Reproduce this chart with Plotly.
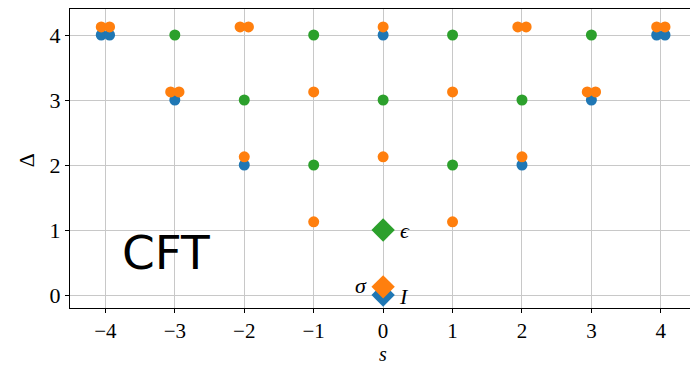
import plotly.graph_objects as go

# Ising CFT torus spectrum: (spin s, scaling dimension Delta, multiplicity)
# Primaries
prim_labels = ["I", "σ", "ϵ"]
prim_s = [0, 0, 0]
prim_delta = [0.0, 0.125, 1.0]

# Descendants, identity tower
I_s = [-2, 2, -3, 3, -4, 0, 4]
I_delta = [2, 2, 3, 3, 4, 4, 4]
I_mult = [1, 1, 1, 1, 2, 1, 2]

# Descendants, sigma tower
sig_s = [-1, 1, -2, 0, 2, -3, -1, 1, 3, -4, -2, 0, 2, 4]
sig_delta = [1.125, 1.125, 2.125, 2.125, 2.125, 3.125, 3.125, 3.125, 3.125,
             4.125, 4.125, 4.125, 4.125, 4.125]
sig_mult = [1, 1, 1, 1, 1, 2, 1, 1, 2, 2, 2, 1, 2, 2]

# Descendants, epsilon tower
eps_s = [-1, 1, -2, 0, 2, -3, -1, 1, 3]
eps_delta = [2, 2, 3, 3, 3, 4, 4, 4, 4]
eps_mult = [1, 1, 1, 1, 1, 1, 1, 1, 1]

x_ticks = [-4, -3, -2, -1, 0, 1, 2, 3, 4]
y_ticks = [0, 1, 2, 3, 4]

colors = ["#1f77b4", "#ff7f0e", "#2ca02c"]
SPLIT = 0.06


def expand(s_list, d_list, m_list):
    xs, ys = [], []
    for s, d, m in zip(s_list, d_list, m_list):
        if m == 1:
            xs.append(s); ys.append(d)
        else:
            xs += [s - SPLIT, s + SPLIT]; ys += [d, d]
    return xs, ys


fig = go.Figure()
for (sl, dl, ml), c in zip([(I_s, I_delta, I_mult), (sig_s, sig_delta, sig_mult),
                            (eps_s, eps_delta, eps_mult)], colors):
    xs, ys = expand(sl, dl, ml)
    fig.add_trace(go.Scatter(x=xs, y=ys, mode="markers",
                             marker=dict(color=c, size=11, symbol="circle"),
                             showlegend=False, hoverinfo="skip"))

for i, c in enumerate(colors):
    fig.add_trace(go.Scatter(x=[prim_s[i]], y=[prim_delta[i]], mode="markers",
                             marker=dict(color=c, size=18, symbol="diamond"),
                             showlegend=False, hoverinfo="skip"))

serif = "Liberation Serif"
ann = []
ann.append(dict(x=0.2, y=-0.02, xref="x", yref="y", text="<i>I</i>", showarrow=False,
                xanchor="left", yanchor="middle", font=dict(family=serif, size=22, color="black")))
ann.append(dict(x=-0.2, y=0.14, xref="x", yref="y", text="<i>σ</i>", showarrow=False,
                xanchor="right", yanchor="middle", font=dict(family=serif, size=22, color="black")))
ann.append(dict(x=0.22, y=1.0, xref="x", yref="y", text="<i>ϵ</i>", showarrow=False,
                xanchor="left", yanchor="middle", font=dict(family=serif, size=22, color="black")))
ann.append(dict(x=-3.13, y=0.66, xref="x", yref="y", text="CFT", showarrow=False,
                xanchor="center", yanchor="middle",
                font=dict(family="DejaVu Sans", size=47, color="black")))
ann.append(dict(x=-0.069, y=0.495, xref="paper", yref="paper", text="Δ", showarrow=False,
                textangle=-90, xanchor="center", yanchor="middle",
                font=dict(family=serif, size=22, color="black")))
ann.append(dict(x=0.505, y=-0.154, xref="paper", yref="paper", text="<i>s</i>", showarrow=False,
                xanchor="center", yanchor="middle",
                font=dict(family=serif, size=20, color="black")))

fig.update_layout(
    width=690, height=365,
    margin=dict(l=70, r=0, t=9, b=57),
    plot_bgcolor="white", paper_bgcolor="white",
    annotations=ann,
    xaxis=dict(range=[-4.51, 4.42], tickvals=x_ticks, showgrid=True, gridcolor="#c8c8c8",
               gridwidth=1, zeroline=False, showline=True, linecolor="black", linewidth=1.2,
               mirror=True, ticks="outside", ticklen=4, tickcolor="black",
               tickfont=dict(family=serif, size=21, color="black")),
    yaxis=dict(range=[-0.2, 4.4], tickvals=y_ticks, showgrid=True, gridcolor="#c8c8c8",
               gridwidth=1, zeroline=False, showline=True, linecolor="black", linewidth=1.2,
               mirror=False, ticks="outside", ticklen=4, tickcolor="black",
               tickfont=dict(family=serif, size=22, color="black")),
)

fig.write_html("out.html", config={"displayModeBar": False},
               post_script="document.body.style.margin='0';document.body.style.overflow='hidden';")
